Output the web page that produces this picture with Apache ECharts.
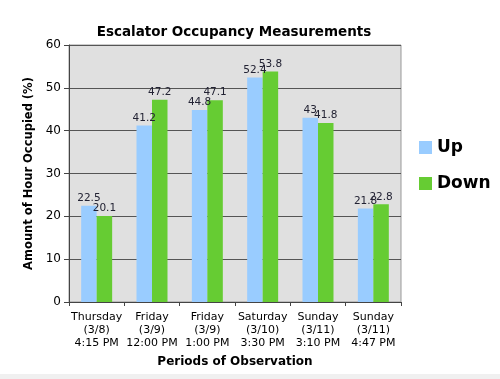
<!DOCTYPE html>
<html><head><meta charset="utf-8">
<script src="https://cdn.jsdelivr.net/npm/echarts@6/dist/echarts.min.js"></script>
<style>html,body{margin:0;padding:0;background:#fff}#c{width:500px;height:379px}</style>
</head><body><div id="c"></div>
<script>
const categories = ['Thursday\n(3/8)\n4:15 PM','Friday\n(3/9)\n12:00 PM','Friday\n(3/9)\n1:00 PM','Saturday\n(3/10)\n3:30 PM','Sunday\n(3/11)\n3:10 PM','Sunday\n(3/11)\n4:47 PM'];
const upValues = [22.5, 41.2, 44.8, 52.4, 43, 21.8];
const downValues = [20.1, 47.2, 47.1, 53.8, 41.8, 22.8];
const seriesNames = ['Up', 'Down'];

const font = 'DejaVu Sans, Verdana, sans-serif';
const chart = echarts.init(document.getElementById('c'));
const labelCfg = {show:true, position:'top', distance:2, fontFamily:font, fontSize:10.5, color:'#223'};
chart.setOption({
  animation:false,
  title:{text:'Escalator Occupancy Measurements', left:229, top:20, textAlign:'center',
    textStyle:{fontFamily:font, fontSize:13.5, fontWeight:'bold', color:'#000'}},
  legend:{orient:'vertical', left:414, top:134, itemWidth:13, itemHeight:13, itemGap:19,
    icon:'rect', textStyle:{fontFamily:font, fontSize:17, fontWeight:'bold', color:'#000'},
    data:seriesNames},
  grid:{left:69, right:99, top:45, bottom:77, show:true, backgroundColor:'#e0e0e0', borderColor:'#999', borderWidth:1},
  xAxis:{type:'category', data:categories,
    name:'Periods of Observation', nameLocation:'middle', nameGap:54,
    nameTextStyle:{fontFamily:font, fontSize:12, fontWeight:'bold', color:'#000'},
    axisLine:{lineStyle:{color:'#444'}}, axisTick:{show:true, length:4, lineStyle:{color:'#444'}},
    axisLabel:{fontFamily:font, fontSize:11, color:'#000', lineHeight:13, margin:9, interval:0}},
  yAxis:{type:'value', min:0, max:60, interval:10,
    name:'Amount of Hour Occupied (%)', nameLocation:'middle', nameGap:30,
    nameTextStyle:{fontFamily:font, fontSize:11.5, fontWeight:'bold', color:'#000'},
    axisLine:{show:true, lineStyle:{color:'#444'}}, axisTick:{show:true, length:5, lineStyle:{color:'#444'}},
    axisLabel:{fontFamily:font, fontSize:12, color:'#000', margin:8},
    splitLine:{lineStyle:{color:'#555', width:1}}},
  series:[
    {name:seriesNames[0], type:'bar', data:upValues, barGap:'0%', barCategoryGap:'44%',
     itemStyle:{color:'#99ccff'}, label:labelCfg},
    {name:seriesNames[1], type:'bar', data:downValues, barGap:'0%', barCategoryGap:'44%',
     itemStyle:{color:'#66cc33'}, label:labelCfg}
  ],
  graphic:[{type:'rect', left:0, top:374, shape:{width:500, height:5}, style:{fill:'#f0f0f0'}}]
});
</script></body></html>
